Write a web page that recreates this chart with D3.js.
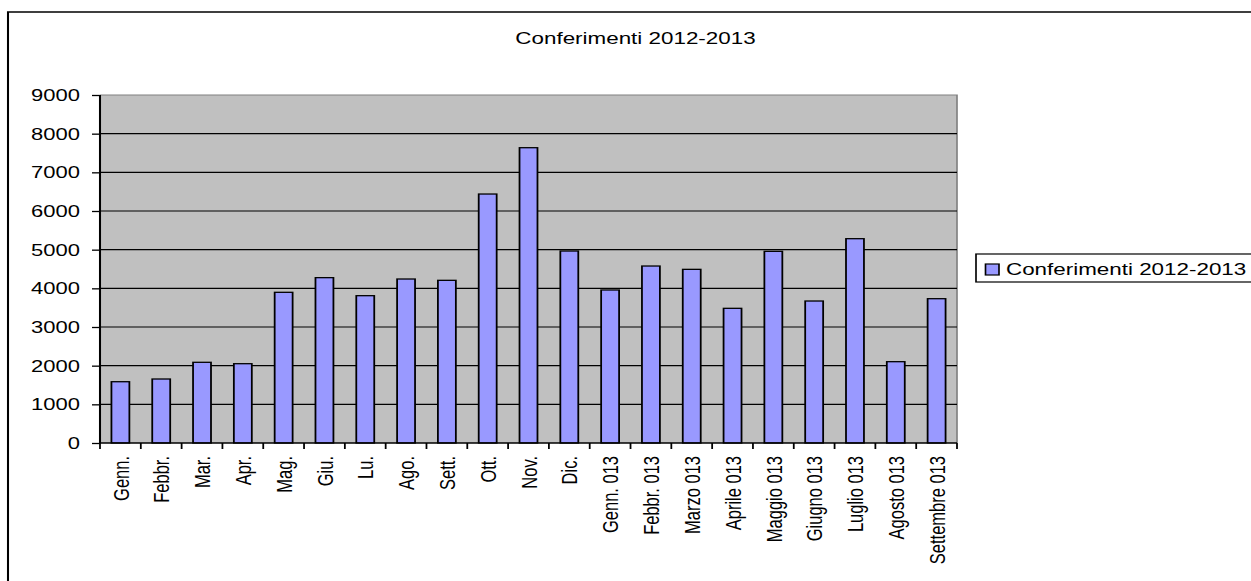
<!DOCTYPE html>
<html>
<head>
<meta charset="utf-8">
<script src="https://cdn.jsdelivr.net/npm/d3@7"></script>
<style>
html,body{margin:0;padding:0;background:#fff;}
svg{display:block;}
text{font-family:"Liberation Sans", Arial, sans-serif;fill:#000;}
</style>
</head>
<body>
<div id="chart"></div>
<script>
const categories = ["Genn.","Febbr.","Mar.","Apr.","Mag.","Giu.","Lu.","Ago.","Sett.","Ott.","Nov.","Dic.",
  "Genn. 013","Febbr. 013","Marzo 013","Aprile 013","Maggio 013","Giugno 013","Luglio 013","Agosto 013","Settembre 013"];
const values = [1585,1655,2087,2051,3897,4276,3810,4241,4207,6439,7637,4965,
  3957,4577,4491,3483,4957,3672,5284,2103,3732];
const yTicks = [0,1000,2000,3000,4000,5000,6000,7000,8000,9000];
const seriesName = "Conferimenti 2012-2013";
const title = "Conferimenti 2012-2013";

const W = 1251, H = 581;
const S = 1.375; // horizontal stretch of the whole picture
const X = v => v / S; // outer pixel -> inner coordinate

const svg = d3.select("#chart").append("svg").attr("width", W).attr("height", H);
const g = svg.append("g").attr("transform", `scale(${S},1)`);

// outer frame
g.append("rect").attr("x", X(8)).attr("y", 12).attr("width", X(1300)).attr("height", 700)
  .attr("fill", "#fff").attr("stroke", "#000").attr("stroke-width", 1.5);

const plot = {l: X(100), r: X(957), t: 95, b: 443};

const x = d3.scaleBand().domain(categories).range([plot.l, plot.r]).paddingInner(0.56).paddingOuter(0.28);
const y = d3.scaleLinear().domain([0, 9000]).range([plot.b, plot.t]);

// plot background
g.append("rect").attr("x", plot.l).attr("y", plot.t).attr("width", plot.r - plot.l).attr("height", plot.b - plot.t)
  .attr("fill", "#C0C0C0");
// plot border (top/right grey)
g.append("path").attr("d", `M${plot.l},${plot.t}H${plot.r}V${plot.b}`).attr("fill", "none")
  .attr("stroke", "#808080").attr("stroke-width", 1.2);

// gridlines
g.append("g").selectAll("line").data(yTicks.filter(d => d > 0 && d < 9000)).join("line")
  .attr("x1", plot.l).attr("x2", plot.r).attr("y1", d => y(d)).attr("y2", d => y(d))
  .attr("stroke", "#000").attr("stroke-width", 1.2);

// bars
g.append("g").selectAll("rect").data(values).join("rect")
  .attr("x", (d, i) => x(categories[i])).attr("width", x.bandwidth())
  .attr("y", d => y(d)).attr("height", d => y(0) - y(d))
  .attr("fill", "#9999FF").attr("stroke", "#000").attr("stroke-width", 1.3);

// y axis
const yAxis = d3.axisLeft(y).tickValues(yTicks).tickFormat(d3.format("d")).tickSize(X(8)).tickPadding(X(12));
const ya = g.append("g").attr("transform", `translate(${plot.l},0)`).call(yAxis);
ya.select(".domain").attr("stroke", "#000").attr("stroke-width", 1.5).attr("d", `M0,${plot.t}V${plot.b}`);
ya.selectAll(".tick line").attr("stroke", "#000").attr("stroke-width", 1.3);
ya.selectAll(".tick text").attr("font-size", 16).attr("font-family", "Liberation Sans, Arial, sans-serif")
  .attr("dy", "0.34em");

// x axis: ticks at band boundaries
const bounds = categories.map((c, i) => plot.l + i * x.step());
bounds.push(plot.r);
g.append("line").attr("x1", plot.l).attr("x2", plot.r).attr("y1", plot.b).attr("y2", plot.b)
  .attr("stroke", "#000").attr("stroke-width", 1.5);
g.append("g").selectAll("line").data(bounds).join("line")
  .attr("x1", d => d).attr("x2", d => d).attr("y1", plot.b).attr("y2", plot.b + 6)
  .attr("stroke", "#000").attr("stroke-width", 1.3);
g.append("g").selectAll("text").data(categories).join("text")
  .attr("transform", d => `translate(${x(d) + x.bandwidth() / 2},456) rotate(-90)`)
  .attr("text-anchor", "end").attr("dy", "0.36em").attr("font-size", 16.5)
  .text(d => d);

// title
g.append("text").attr("x", X(635.5)).attr("y", 44.5).attr("text-anchor", "middle")
  .attr("font-size", 16.3).text(title);

// legend
const lg = g.append("g");
lg.append("rect").attr("x", X(976)).attr("y", 254).attr("width", X(1300) - X(976)).attr("height", 28)
  .attr("fill", "#fff").attr("stroke", "#000").attr("stroke-width", 1.2);
lg.append("rect").attr("x", X(985.5)).attr("y", 264).attr("width", X(999) - X(985.5)).attr("height", 11)
  .attr("fill", "#9999FF").attr("stroke", "#000").attr("stroke-width", 1.2);
lg.append("text").attr("x", X(1006)).attr("y", 275.5).attr("font-size", 16.3).text(seriesName);
</script>
</body>
</html>
